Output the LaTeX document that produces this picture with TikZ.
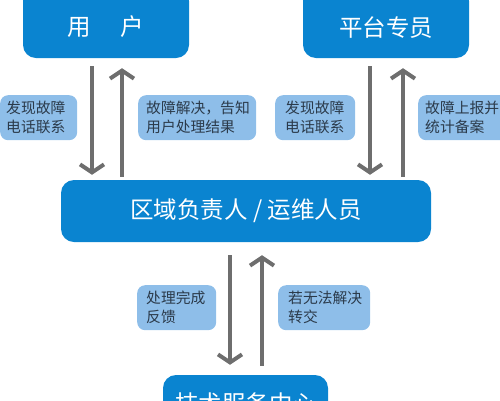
\documentclass[tikz,border=0pt]{standalone}
\usepackage{fontspec}
\setmainfont{Noto Sans CJK SC}
\usetikzlibrary{arrows.meta}
\definecolor{boxblue}{HTML}{0A84D0}
\definecolor{lblblue}{HTML}{8EBEE9}
\definecolor{lbltext}{HTML}{2B3A4A}
\definecolor{arrgray}{HTML}{6E6E6E}
\tikzset{
  bigbox/.style={fill=boxblue, rounded corners=13pt, text=white, font=\fontsize{23.5}{26}\selectfont, inner sep=0pt},
  bigtext/.style={text=white, font=\fontsize{23.5}{26}\selectfont, inner sep=0pt},
  lbl/.style={fill=lblblue, rounded corners=8pt, inner sep=0pt, anchor=north west},
  lbltxt/.style={text=lbltext, font=\fontsize{14.8}{19}\selectfont, align=left, anchor=west, inner sep=0pt},
  arr/.style={draw=arrgray, line width=4pt, -{Straight Barb[length=8pt,width=24pt,line width=4pt]}}
}
\begin{document}
\begin{tikzpicture}[x=1pt,y=-1pt]
\useasboundingbox (0,0) rectangle (500,400);
\clip (0,0) rectangle (500,400);
% main boxes
\node[bigbox, minimum width=166pt, minimum height=70pt] (user) at (106,23) {};
\node[bigtext] (usert) at (105.5,27) {用\hspace{29pt}户};
\node[bigbox, minimum width=166pt, minimum height=70pt] (plat) at (386,23) {};
\node[bigtext] (platt) at (386,28) {平台专员};
\node[bigbox, minimum width=370pt, minimum height=62pt] (mid) at (246,211) {区域负责人 / 运维人员};
\node[bigbox, minimum width=165pt, minimum height=60pt] (tech) at (245.5,405) {};
\node[bigtext] (techt) at (245.5,404) {技术服务中心};
% labels
\node[lbl, minimum width=77pt, minimum height=45pt] (l1) at (0,95) {};
\node[lbltxt] (l1t) at (6,117) {发现故障\\电话联系};
\node[lbl, minimum width=118pt, minimum height=45pt] (l2) at (138,95) {};
\node[lbltxt] (l2t) at (146,117) {故障解决，告知\\用户处理结果};
\node[lbl, minimum width=80pt, minimum height=45pt] (l3) at (275,95) {};
\node[lbltxt] (l3t) at (285,117) {发现故障\\电话联系};
\node[lbl, minimum width=90pt, minimum height=45pt] (l4) at (418,95) {};
\node[lbltxt] (l4t) at (425,117) {故障上报并\\统计备案};
\node[lbl, minimum width=79pt, minimum height=45pt] (l5) at (137,285) {};
\node[lbltxt] (l5t) at (146,307) {处理完成\\反馈};
\node[lbl, minimum width=92pt, minimum height=45pt] (l6) at (278,285) {};
\node[lbltxt] (l6t) at (288,307) {若无法解决\\转交};
% arrows
\draw[arr, shorten <=8pt, shorten >=5pt] (user.south -| 92,0) -- (mid.north -| 92,0);
\draw[arr, shorten <=3pt, shorten >=10pt] (mid.north -| 122,0) -- (user.south -| 122,0);
\draw[arr, shorten <=8pt, shorten >=5pt] (plat.south -| 370,0) -- (mid.north -| 370,0);
\draw[arr, shorten <=3pt, shorten >=10pt] (mid.north -| 403,0) -- (plat.south -| 403,0);
\draw[arr, shorten <=13pt, shorten >=10pt] (mid.south -| 230,0) -- (tech.north -| 230,0);
\draw[arr, shorten <=9pt, shorten >=13pt] (tech.north -| 262,0) -- (mid.south -| 262,0);
\end{tikzpicture}
\end{document}
